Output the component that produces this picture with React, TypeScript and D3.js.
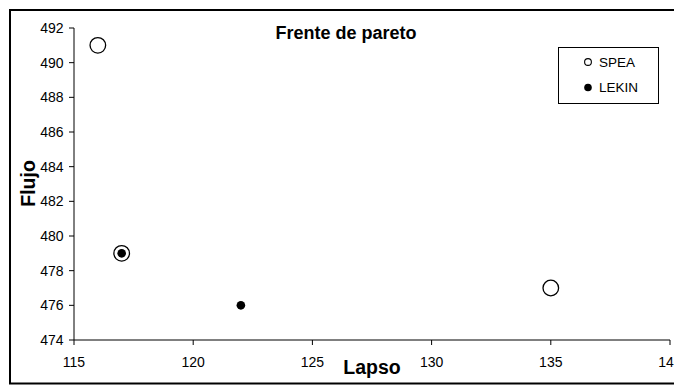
import React from "react";
import * as d3 from "d3";

const speaX = [116, 117, 135];
const speaY = [491, 479, 477];
const lekinX = [117, 122];
const lekinY = [479, 476];
const xTicks = [115, 120, 125, 130, 135, 140];
const yTicks = [474, 476, 478, 480, 482, 484, 486, 488, 490, 492];
const seriesNames = ["SPEA", "LEKIN"];

const W = 674;
const H = 386;
const FONT = "'Liberation Sans', Arial, sans-serif";

export default function App() {
  const x = d3.scaleLinear().domain([115, 140]).range([74, 670]);
  const y = d3.scaleLinear().domain([474, 492]).range([340, 28]);

  return (
    <svg
      width={W}
      height={H}
      style={{ position: "absolute", left: 0, top: 0, display: "block", background: "#fff" }}
      fontFamily={FONT}
    >
      <rect x={0} y={0} width={W} height={H} fill="#fff" />
      <rect x={10} y={10} width={W + 20} height={373.5} fill="none" stroke="#000" strokeWidth={2} />

      <text x={346} y={39} textAnchor="middle" fontSize={18} fontWeight="bold">
        Frente de pareto
      </text>

      {/* Y axis */}
      <line x1={x(115)} x2={x(115)} y1={y(492)} y2={y(474)} stroke="#000" strokeWidth={1} />
      {yTicks.map((t) => (
        <g key={"y" + t}>
          <line x1={x(115) - 5} x2={x(115)} y1={y(t)} y2={y(t)} stroke="#000" strokeWidth={1} />
          <text x={63.5} y={y(t)} dy="0.35em" textAnchor="end" fontSize={14}>
            {t}
          </text>
        </g>
      ))}

      {/* X axis */}
      <line x1={x(115)} x2={x(140)} y1={y(474)} y2={y(474)} stroke="#000" strokeWidth={1} />
      {xTicks.map((t) => (
        <g key={"x" + t}>
          <line x1={x(t)} x2={x(t)} y1={y(474)} y2={y(474) + 5} stroke="#000" strokeWidth={1} />
          <text x={x(t)} y={367} textAnchor="middle" fontSize={14}>
            {t}
          </text>
        </g>
      ))}

      <text x={372} y={374} textAnchor="middle" fontSize={19.5} fontWeight="bold">
        Lapso
      </text>
      <text
        transform={`translate(35,183.5) rotate(-90)`}
        textAnchor="middle"
        fontSize={19.5}
        fontWeight="bold"
      >
        Flujo
      </text>

      {/* SPEA */}
      {speaX.map((v, i) => (
        <circle key={"s" + i} cx={x(v)} cy={y(speaY[i])} r={7.8} fill="#fff" stroke="#000" strokeWidth={1.3} />
      ))}
      {/* LEKIN */}
      {lekinX.map((v, i) => (
        <circle key={"l" + i} cx={x(v)} cy={y(lekinY[i])} r={4.3} fill="#000" />
      ))}

      {/* Legend */}
      <rect x={558.5} y={47.5} width={100} height={56} fill="#fff" stroke="#000" strokeWidth={1} />
      <circle cx={588} cy={62} r={3.4} fill="#fff" stroke="#000" strokeWidth={1.1} />
      <text x={599} y={62} dy="0.36em" fontSize={13.5}>
        {seriesNames[0]}
      </text>
      <circle cx={588} cy={87.5} r={3.8} fill="#000" />
      <text x={599} y={87.5} dy="0.36em" fontSize={13.5}>
        {seriesNames[1]}
      </text>
    </svg>
  );
}
